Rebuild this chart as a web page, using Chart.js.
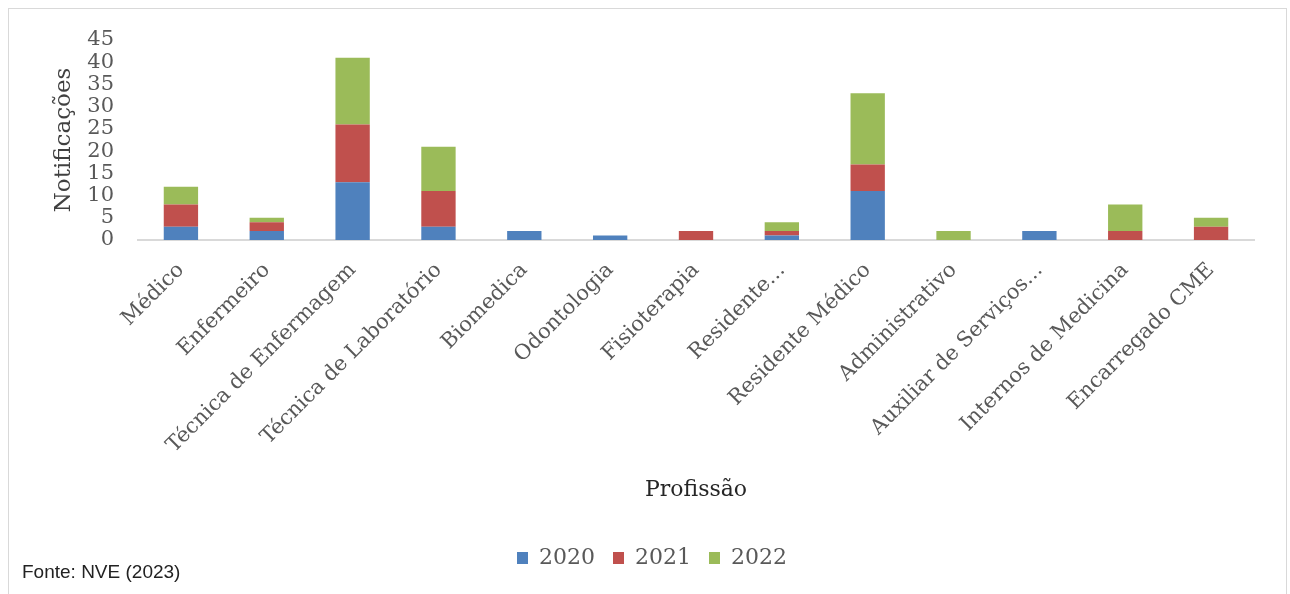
<!DOCTYPE html>
<html>
<head>
<meta charset="utf-8">
<script src="https://cdn.jsdelivr.net/npm/chart.js@4/dist/chart.umd.min.js"></script>
<style>
  html, body { margin: 0; padding: 0; background: #fff; }
  #wrap { position: relative; width: 1290px; height: 594px; overflow: hidden; }
  #frame { position: absolute; left: 8px; top: 8px; width: 1277px; height: 600px; border: 1px solid #d9d9d9; }
  #fonte { position: absolute; left: 22px; top: 561px; font-family: "Liberation Sans", Arial, sans-serif; font-size: 19px; color: #222; }
  canvas { position: absolute; left: 0; top: 0; }
</style>
</head>
<body>
<div id="wrap">
  <div id="frame"></div>
  <canvas id="chart" width="1290" height="594"></canvas>
  <div id="fonte">Fonte: NVE (2023)</div>
</div>
<script>
const profissoes = ['Médico', 'Enfermeiro', 'Técnica de Enfermagem', 'Técnica de Laboratório', 'Biomedica',
    'Odontologia', 'Fisioterapia', 'Residente...', 'Residente Médico', 'Administrativo',
    'Auxiliar de Serviços...', 'Internos de Medicina', 'Encarregado CME'];
const anos = ['2020', '2021', '2022'];
const v2020 = [3, 2, 13, 3, 2, 1, 0, 1, 11, 0, 2, 0, 0];
const v2021 = [5, 2, 13, 8, 0, 0, 2, 1, 6, 0, 0, 2, 3];
const v2022 = [4, 1, 15, 10, 0, 0, 0, 2, 16, 2, 0, 6, 2];
const cores = ['#4F81BD', '#C0504D', '#9BBB59'];

const serif = '"DejaVu Serif", "Liberation Serif", serif';
const tickColor = '#595959';

const series = [v2020, v2021, v2022];

new Chart(document.getElementById('chart'), {
    type: 'bar',
    data: {
        labels: profissoes,
        datasets: anos.map((ano, i) => ({
            label: ano,
            data: series[i],
            backgroundColor: cores[i],
            borderWidth: 0,
            barPercentage: 0.4,
            categoryPercentage: 1
        }))
    },
    options: {
        responsive: false,
        animation: false,
        layout: { padding: { top: 40, right: 36, left: 50, bottom: 15 } },
        scales: {
            x: {
                stacked: true,
                grid: { display: false, drawTicks: false },
                border: { color: '#d9d9d9', width: 2 },
                ticks: { color: tickColor, font: { family: serif, size: 21 }, maxRotation: 45, minRotation: 45, autoSkip: false, padding: 18 },
                title: { display: true, text: 'Profissão', color: '#262626', font: { family: serif, size: 22 }, padding: { top: 0, bottom: 26 } },
                afterFit: s => { s.height = 289; }
            },
            y: {
                stacked: true,
                min: 0, max: 45,
                grid: { display: false, drawTicks: false },
                border: { display: false },
                ticks: { stepSize: 5, autoSkip: false, color: tickColor, font: { family: serif, size: 21 }, padding: 24 },
                title: { display: true, text: 'Notificações', color: '#404040', font: { family: serif, size: 23 }, padding: 0 },
                afterFit: s => { s.width = 88; }
            }
        },
        plugins: {
            legend: {
                position: 'bottom',
                labels: { color: tickColor, font: { family: serif, size: 22 }, boxWidth: 11, boxHeight: 12, padding: 18 }
            },
            tooltip: { enabled: false }
        }
    }
});
</script>
</body>
</html>
